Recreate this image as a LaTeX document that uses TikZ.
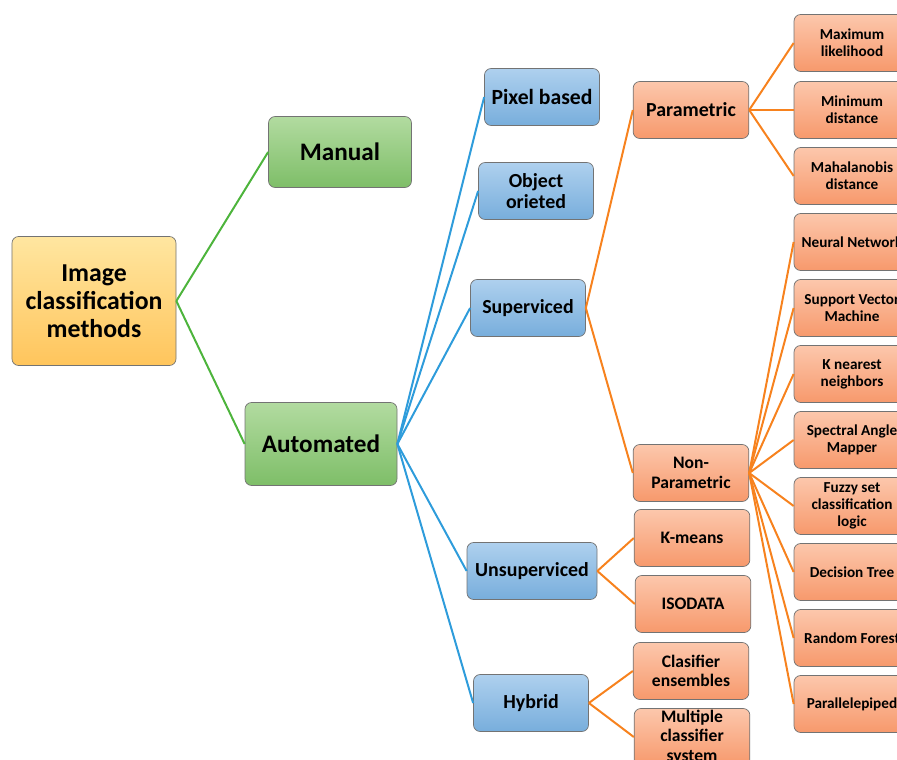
\documentclass[tikz,border=0pt]{standalone}
\usepackage{xcolor}
\usepackage{tikz}
\usepackage{fontspec}
\setmainfont{Carlito}
\usetikzlibrary{shapes, positioning}

\definecolor{yeltop}{HTML}{FFE6A0}
\definecolor{yelbot}{HTML}{FFC55C}
\definecolor{grntop}{HTML}{B2DBA0}
\definecolor{grnbot}{HTML}{7EBE68}
\definecolor{blutop}{HTML}{AED0EE}
\definecolor{blubot}{HTML}{78AEDC}
\definecolor{orgtop}{HTML}{FCC7AC}
\definecolor{orgbot}{HTML}{F7996C}
\definecolor{grnline}{HTML}{4DB43C}
\definecolor{bluline}{HTML}{2E9CDB}
\definecolor{orgline}{HTML}{F7821E}

\tikzset{
  box/.style={draw=black!55,line width=0.6pt,rounded corners=0.2cm,align=center,
    font=\bfseries,inner sep=1pt},
  rootbox/.style={box,top color=yeltop,bottom color=yelbot,
    font=\bfseries\fontsize{22}{24}\selectfont,minimum width=4.92cm,minimum height=3.87cm},
  grnbox/.style={box,top color=grntop,bottom color=grnbot,
    font=\bfseries\fontsize{21.5}{24}\selectfont,minimum height=2.2cm},
  blubox/.style={box,top color=blutop,bottom color=blubot,
    font=\bfseries\fontsize{17}{18.5}\selectfont,minimum width=3.45cm,minimum height=1.71cm},
  orgbox/.style={box,top color=orgtop,bottom color=orgbot,
    font=\bfseries\fontsize{15}{16.5}\selectfont,minimum width=3.47cm,minimum height=1.71cm},
  leafbox/.style={orgbox,font=\bfseries\fontsize{13}{14.5}\selectfont,minimum width=3.48cm},
}

\begin{document}
\begin{tikzpicture}[x=0.03cm,y=-0.03cm]
        \clip (0,0) rectangle (897,760);
        % root and first level
        \node[rootbox] (img) at (94,301) {Image\\classification\\methods};
        \node[grnbox,minimum width=4.29cm,minimum height=2.13cm] (manual) at (340,152) {Manual};
        \node[grnbox,minimum width=4.56cm,minimum height=2.49cm] (auto) at (321,444) {Automated};
        % automated methods
        \node[blubox,font=\bfseries\fontsize{18.5}{20}\selectfont] (pixel) at (542,97) {Pixel based};
        \node[blubox] (object) at (536,191) {Object\\orieted};
        \node[blubox] (superv) at (528,308) {Superviced};
        \node[blubox,minimum width=3.9cm] (unsuperv) at (532,571) {Unsuperviced};
        \node[blubox] (hybrid) at (531,703) {Hybrid};
        % second level
        \node[orgbox,font=\bfseries\fontsize{17}{18.5}\selectfont] (param) at (691,110) {Parametric};
        \node[orgbox] (nonparam) at (691,473) {Non-\\Parametric};
        \node[orgbox] (kmeans) at (692,538) {K-means};
        \node[orgbox] (isodata) at (693,604) {ISODATA};
        \node[orgbox] (clasif) at (691,671) {Clasifier\\ensembles};
        \node[orgbox] (multi) at (692,737) {Multiple\\classifier\\system};
        % leaves
        \node[leafbox] (maxl) at (852,43) {Maximum\\likelihood};
        \node[leafbox] (mind) at (852,110) {Minimum\\distance};
        \node[leafbox] (mahal) at (852,176) {Mahalanobis\\distance};
        \node[leafbox] (nn) at (852,242) {Neural Network};
        \node[leafbox] (svm) at (852,308) {Support Vector\\Machine};
        \node[leafbox] (knn) at (852,374) {K nearest\\neighbors};
        \node[leafbox] (sam) at (852,440) {Spectral Angle\\Mapper};
        \node[leafbox] (fuzzy) at (852,506) {Fuzzy set\\classification\\logic};
        \node[leafbox] (dtree) at (852,572) {Decision Tree};
        \node[leafbox] (rf) at (852,638) {Random Forest};
        \node[leafbox] (para) at (852,704) {Parallelepiped};
        % connectors
        \begin{scope}[every edge/.style={draw=grnline,line width=1.7pt}]
          \path (img.east) edge (manual.west);
          \path (img.east) edge (auto.west);
        \end{scope}
        \begin{scope}[every edge/.style={draw=bluline,line width=1.7pt}]
          \foreach \n in {pixel,object,superv,unsuperv,hybrid}
            \path (auto.east) edge (\n.west);
        \end{scope}
        \begin{scope}[every edge/.style={draw=orgline,line width=1.7pt}]
          \path (superv.east) edge (param.west);
          \path (superv.east) edge (nonparam.west);
          \foreach \n in {maxl,mind,mahal}
            \path (param.east) edge (\n.west);
          \foreach \n in {nn,svm,knn,sam,fuzzy,dtree,rf,para}
            \path (nonparam.east) edge (\n.west);
          \path (unsuperv.east) edge (kmeans.west);
          \path (unsuperv.east) edge (isodata.west);
          \path (hybrid.east) edge (clasif.west);
          \path (hybrid.east) edge (multi.west);
        \end{scope}
      \end{tikzpicture}
\end{document}
